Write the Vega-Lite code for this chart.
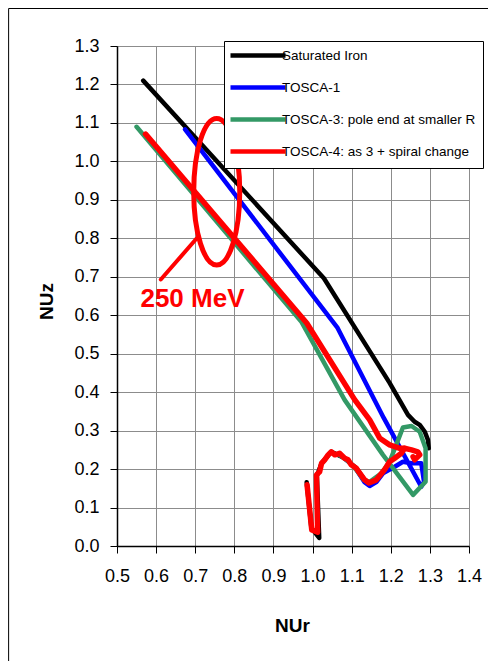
{
  "$schema": "https://vega.github.io/schema/vega-lite/v6.json",
  "width": 352,
  "height": 500,
  "autosize": "none",
  "padding": {"left": 117, "top": 46, "right": 19, "bottom": 115},
  "background": "white",
  "config": {
    "font": "Liberation Sans",
    "view": {"stroke": "#8c8c8c", "strokeWidth": 1},
    "legend": {
      "orient": "none",
      "legendX": 107,
      "legendY": -5,
      "fillColor": "white",
      "strokeColor": "black",
      "padding": 7,
      "symbolType": "M-1.6,0H9.4",
      "symbolSize": 100,
      "symbolStrokeWidth": 4.5,
      "labelOffset": 36,
      "labelFontSize": 13.5,
      "labelFont": "Liberation Sans",
      "labelColor": "black",
      "labelLimit": 400,
      "rowPadding": 13
    }
  },
  "datasets": {
    "curves": [
      {"s": "Saturated Iron", "seg": "a", "i": 0, "x": 0.567, "y": 1.210},
      {"s": "Saturated Iron", "seg": "a", "i": 1, "x": 1.029, "y": 0.696},
      {"s": "Saturated Iron", "seg": "a", "i": 2, "x": 1.197, "y": 0.424},
      {"s": "Saturated Iron", "seg": "a", "i": 3, "x": 1.244, "y": 0.341},
      {"s": "Saturated Iron", "seg": "a", "i": 4, "x": 1.261, "y": 0.323},
      {"s": "Saturated Iron", "seg": "a", "i": 5, "x": 1.274, "y": 0.315},
      {"s": "Saturated Iron", "seg": "a", "i": 6, "x": 1.287, "y": 0.297},
      {"s": "Saturated Iron", "seg": "a", "i": 7, "x": 1.295, "y": 0.276},
      {"s": "Saturated Iron", "seg": "a", "i": 8, "x": 1.297, "y": 0.254},
      {"s": "Saturated Iron", "seg": "b", "i": 0, "x": 0.985, "y": 0.166},
      {"s": "Saturated Iron", "seg": "b", "i": 1, "x": 0.997, "y": 0.047},
      {"s": "Saturated Iron", "seg": "b", "i": 2, "x": 1.017, "y": 0.021},
      {"s": "Saturated Iron", "seg": "b", "i": 3, "x": 1.011, "y": 0.182},
      {"s": "Saturated Iron", "seg": "b", "i": 4, "x": 1.023, "y": 0.215},
      {"s": "Saturated Iron", "seg": "b", "i": 5, "x": 1.048, "y": 0.245},
      {"s": "Saturated Iron", "seg": "b", "i": 6, "x": 1.082, "y": 0.228},
      {"s": "Saturated Iron", "seg": "b", "i": 7, "x": 1.112, "y": 0.202},
      {"s": "Saturated Iron", "seg": "b", "i": 8, "x": 1.133, "y": 0.172},
      {"s": "TOSCA-1", "seg": "a", "i": 0, "x": 0.674, "y": 1.083},
      {"s": "TOSCA-1", "seg": "a", "i": 1, "x": 1.064, "y": 0.567},
      {"s": "TOSCA-1", "seg": "a", "i": 2, "x": 1.182, "y": 0.333},
      {"s": "TOSCA-1", "seg": "a", "i": 3, "x": 1.278, "y": 0.154},
      {"s": "TOSCA-1", "seg": "a", "i": 4, "x": 1.285, "y": 0.167},
      {"s": "TOSCA-1", "seg": "a", "i": 5, "x": 1.278, "y": 0.215},
      {"s": "TOSCA-1", "seg": "a", "i": 6, "x": 1.253, "y": 0.215},
      {"s": "TOSCA-1", "seg": "a", "i": 7, "x": 1.231, "y": 0.219},
      {"s": "TOSCA-1", "seg": "a", "i": 8, "x": 1.210, "y": 0.206},
      {"s": "TOSCA-1", "seg": "a", "i": 9, "x": 1.180, "y": 0.189},
      {"s": "TOSCA-1", "seg": "a", "i": 10, "x": 1.163, "y": 0.166},
      {"s": "TOSCA-1", "seg": "a", "i": 11, "x": 1.146, "y": 0.156},
      {"s": "TOSCA-1", "seg": "a", "i": 12, "x": 1.133, "y": 0.166},
      {"s": "TOSCA-1", "seg": "a", "i": 13, "x": 1.112, "y": 0.199},
      {"s": "TOSCA-1", "seg": "a", "i": 14, "x": 1.090, "y": 0.221},
      {"s": "TOSCA-1", "seg": "a", "i": 15, "x": 1.069, "y": 0.239},
      {"s": "TOSCA-3: pole end at smaller R", "seg": "a", "i": 0, "x": 0.550, "y": 1.090},
      {"s": "TOSCA-3: pole end at smaller R", "seg": "a", "i": 1, "x": 0.972, "y": 0.582},
      {"s": "TOSCA-3: pole end at smaller R", "seg": "a", "i": 2, "x": 1.082, "y": 0.380},
      {"s": "TOSCA-3: pole end at smaller R", "seg": "a", "i": 3, "x": 1.180, "y": 0.237},
      {"s": "TOSCA-3: pole end at smaller R", "seg": "a", "i": 4, "x": 1.257, "y": 0.133},
      {"s": "TOSCA-3: pole end at smaller R", "seg": "a", "i": 5, "x": 1.289, "y": 0.167},
      {"s": "TOSCA-3: pole end at smaller R", "seg": "a", "i": 6, "x": 1.289, "y": 0.254},
      {"s": "TOSCA-3: pole end at smaller R", "seg": "a", "i": 7, "x": 1.274, "y": 0.297},
      {"s": "TOSCA-3: pole end at smaller R", "seg": "a", "i": 8, "x": 1.253, "y": 0.312},
      {"s": "TOSCA-3: pole end at smaller R", "seg": "a", "i": 9, "x": 1.231, "y": 0.308},
      {"s": "TOSCA-3: pole end at smaller R", "seg": "a", "i": 10, "x": 1.214, "y": 0.263},
      {"s": "TOSCA-3: pole end at smaller R", "seg": "a", "i": 11, "x": 1.197, "y": 0.219},
      {"s": "TOSCA-3: pole end at smaller R", "seg": "a", "i": 12, "x": 1.176, "y": 0.189},
      {"s": "TOSCA-3: pole end at smaller R", "seg": "a", "i": 13, "x": 1.146, "y": 0.167},
      {"s": "TOSCA-3: pole end at smaller R", "seg": "a", "i": 14, "x": 1.131, "y": 0.172},
      {"s": "TOSCA-3: pole end at smaller R", "seg": "a", "i": 15, "x": 1.112, "y": 0.198},
      {"s": "TOSCA-3: pole end at smaller R", "seg": "a", "i": 16, "x": 1.090, "y": 0.221},
      {"s": "TOSCA-3: pole end at smaller R", "seg": "a", "i": 17, "x": 1.069, "y": 0.237},
      {"s": "TOSCA-4: as 3 + spiral change", "seg": "a", "i": 0, "x": 0.573, "y": 1.071},
      {"s": "TOSCA-4: as 3 + spiral change", "seg": "a", "i": 1, "x": 0.985, "y": 0.580},
      {"s": "TOSCA-4: as 3 + spiral change", "seg": "a", "i": 2, "x": 1.108, "y": 0.380},
      {"s": "TOSCA-4: as 3 + spiral change", "seg": "a", "i": 3, "x": 1.146, "y": 0.328},
      {"s": "TOSCA-4: as 3 + spiral change", "seg": "a", "i": 4, "x": 1.172, "y": 0.280},
      {"s": "TOSCA-4: as 3 + spiral change", "seg": "a", "i": 5, "x": 1.197, "y": 0.263},
      {"s": "TOSCA-4: as 3 + spiral change", "seg": "a", "i": 6, "x": 1.223, "y": 0.254},
      {"s": "TOSCA-4: as 3 + spiral change", "seg": "a", "i": 7, "x": 1.235, "y": 0.254},
      {"s": "TOSCA-4: as 3 + spiral change", "seg": "a", "i": 8, "x": 1.253, "y": 0.250},
      {"s": "TOSCA-4: as 3 + spiral change", "seg": "a", "i": 9, "x": 1.269, "y": 0.245},
      {"s": "TOSCA-4: as 3 + spiral change", "seg": "a", "i": 10, "x": 1.274, "y": 0.237},
      {"s": "TOSCA-4: as 3 + spiral change", "seg": "a", "i": 11, "x": 1.261, "y": 0.224},
      {"s": "TOSCA-4: as 3 + spiral change", "seg": "a", "i": 12, "x": 1.257, "y": 0.232},
      {"s": "TOSCA-4: as 3 + spiral change", "seg": "b", "i": 0, "x": 0.986, "y": 0.159},
      {"s": "TOSCA-4: as 3 + spiral change", "seg": "b", "i": 1, "x": 0.998, "y": 0.042},
      {"s": "TOSCA-4: as 3 + spiral change", "seg": "b", "i": 2, "x": 1.013, "y": 0.036},
      {"s": "TOSCA-4: as 3 + spiral change", "seg": "b", "i": 3, "x": 1.010, "y": 0.185},
      {"s": "TOSCA-4: as 3 + spiral change", "seg": "b", "i": 4, "x": 1.018, "y": 0.193},
      {"s": "TOSCA-4: as 3 + spiral change", "seg": "b", "i": 5, "x": 1.023, "y": 0.215},
      {"s": "TOSCA-4: as 3 + spiral change", "seg": "b", "i": 6, "x": 1.031, "y": 0.224},
      {"s": "TOSCA-4: as 3 + spiral change", "seg": "b", "i": 7, "x": 1.040, "y": 0.237},
      {"s": "TOSCA-4: as 3 + spiral change", "seg": "b", "i": 8, "x": 1.048, "y": 0.245},
      {"s": "TOSCA-4: as 3 + spiral change", "seg": "b", "i": 9, "x": 1.057, "y": 0.237},
      {"s": "TOSCA-4: as 3 + spiral change", "seg": "b", "i": 10, "x": 1.069, "y": 0.241},
      {"s": "TOSCA-4: as 3 + spiral change", "seg": "b", "i": 11, "x": 1.082, "y": 0.228},
      {"s": "TOSCA-4: as 3 + spiral change", "seg": "b", "i": 12, "x": 1.091, "y": 0.224},
      {"s": "TOSCA-4: as 3 + spiral change", "seg": "b", "i": 13, "x": 1.099, "y": 0.211},
      {"s": "TOSCA-4: as 3 + spiral change", "seg": "b", "i": 14, "x": 1.112, "y": 0.202},
      {"s": "TOSCA-4: as 3 + spiral change", "seg": "b", "i": 15, "x": 1.121, "y": 0.189},
      {"s": "TOSCA-4: as 3 + spiral change", "seg": "b", "i": 16, "x": 1.133, "y": 0.172},
      {"s": "TOSCA-4: as 3 + spiral change", "seg": "b", "i": 17, "x": 1.144, "y": 0.164},
      {"s": "TOSCA-4: as 3 + spiral change", "seg": "b", "i": 18, "x": 1.163, "y": 0.172},
      {"s": "TOSCA-4: as 3 + spiral change", "seg": "b", "i": 19, "x": 1.184, "y": 0.198},
      {"s": "TOSCA-4: as 3 + spiral change", "seg": "b", "i": 20, "x": 1.197, "y": 0.219},
      {"s": "TOSCA-4: as 3 + spiral change", "seg": "b", "i": 21, "x": 1.210, "y": 0.228},
      {"s": "TOSCA-4: as 3 + spiral change", "seg": "b", "i": 22, "x": 1.227, "y": 0.241},
      {"s": "TOSCA-4: as 3 + spiral change", "seg": "b", "i": 23, "x": 1.235, "y": 0.254}
    ],
    "frame": [{"x": 0.2229, "y": 1.3975, "x2": 1.6, "y2": -0.6}],
    "ellipse": [{"x": 0.755, "y": 0.921}],
    "pointer": [{"i": 0, "x": 0.612, "y": 0.693}, {"i": 1, "x": 0.704, "y": 0.800}],
    "label": [{"t": "250 MeV", "x": 0.693, "y": 0.642}]
  },
  "encoding": {
    "x": {
      "field": "x", "type": "quantitative",
      "scale": {"domain": [0.5, 1.4], "nice": false, "zero": false},
      "axis": {
        "title": "NUr",
        "values": [0.5, 0.6, 0.7, 0.8, 0.9, 1.0, 1.1, 1.2, 1.3, 1.4],
        "format": ".1f",
        "grid": true, "gridColor": "#8c8c8c", "gridWidth": 1,
        "domainColor": "black", "domainWidth": 1.5,
        "tickColor": "black", "tickSize": 7, "tickWidth": 1,
        "labelFontSize": 18, "labelColor": "black", "labelPadding": 14,
        "labelFont": "Liberation Sans", "labelOverlap": false, "labelFlush": false,
        "titleFontSize": 19, "titleFontWeight": "bold", "titleColor": "black",
        "titleFont": "Liberation Sans", "titleX": 175, "titleY": 85,
        "titleBaseline": "alphabetic", "titleAlign": "center"
      }
    },
    "y": {
      "field": "y", "type": "quantitative",
      "scale": {"domain": [0, 1.3], "nice": false, "zero": false},
      "axis": {
        "title": "NUz",
        "values": [0, 0.1, 0.2, 0.3, 0.4, 0.5, 0.6, 0.7, 0.8, 0.9, 1.0, 1.1, 1.2, 1.3],
        "format": ".1f",
        "grid": true, "gridColor": "#8c8c8c", "gridWidth": 1,
        "domainColor": "black", "domainWidth": 1.5,
        "tickColor": "black", "tickSize": 7, "tickWidth": 1,
        "labelFontSize": 18, "labelColor": "black", "labelPadding": 11,
        "labelFont": "Liberation Sans", "labelOverlap": false, "labelFlush": false,
        "titleFontSize": 19, "titleFontWeight": "bold", "titleColor": "black",
        "titleFont": "Liberation Sans", "titleX": -65, "titleY": 255,
        "titleAngle": 270, "titleBaseline": "alphabetic", "titleAlign": "center"
      }
    }
  },
  "layer": [
    {
      "data": {"name": "frame"},
      "mark": {"type": "rect", "fill": "transparent", "stroke": "black", "strokeWidth": 1},
      "encoding": {"x2": {"field": "x2"}, "y2": {"field": "y2"}}
    },
    {
      "data": {"name": "curves"},
      "transform": [{"filter": "datum.s === 'Saturated Iron'"}],
      "mark": {"type": "line", "strokeWidth": 4.5, "strokeCap": "round", "strokeJoin": "round"},
      "encoding": {
        "color": {
          "field": "s", "type": "nominal",
          "scale": {
            "domain": ["Saturated Iron", "TOSCA-1", "TOSCA-3: pole end at smaller R", "TOSCA-4: as 3 + spiral change"],
            "range": ["#000000", "#0000FF", "#339966", "#FF0000"]
          },
          "legend": {"title": null}
        },
        "detail": {"field": "seg"},
        "order": {"field": "i"}
      }
    },
    {
      "data": {"name": "curves"},
      "transform": [{"filter": "datum.s === 'TOSCA-1'"}],
      "mark": {"type": "line", "strokeWidth": 4.5, "strokeCap": "round", "strokeJoin": "round"},
      "encoding": {
        "color": {"field": "s", "type": "nominal", "legend": {"title": null}},
        "detail": {"field": "seg"},
        "order": {"field": "i"}
      }
    },
    {
      "data": {"name": "curves"},
      "transform": [{"filter": "datum.s === 'TOSCA-3: pole end at smaller R'"}],
      "mark": {"type": "line", "strokeWidth": 4.5, "strokeCap": "round", "strokeJoin": "round"},
      "encoding": {
        "color": {"field": "s", "type": "nominal", "legend": {"title": null}},
        "detail": {"field": "seg"},
        "order": {"field": "i"}
      }
    },
    {
      "data": {"name": "curves"},
      "transform": [{"filter": "datum.s === 'TOSCA-4: as 3 + spiral change'"}],
      "mark": {"type": "line", "strokeWidth": 5.5, "strokeCap": "round", "strokeJoin": "round"},
      "encoding": {
        "color": {"field": "s", "type": "nominal", "legend": {"title": null}},
        "detail": {"field": "seg"},
        "order": {"field": "i"}
      }
    },
    {
      "data": {"name": "pointer"},
      "mark": {"type": "line", "color": "#FF0000", "strokeWidth": 4, "strokeCap": "round"},
      "encoding": {"order": {"field": "i"}}
    },
    {
      "data": {"name": "ellipse"},
      "mark": {
        "type": "point",
        "shape": "M0,-1C0.1734,-1,0.314,-0.5523,0.314,0C0.314,0.5523,0.1734,1,0,1C-0.1734,1,-0.314,0.5523,-0.314,0C-0.314,-0.5523,-0.1734,-1,0,-1Z",
        "size": 21492,
        "filled": false,
        "stroke": "#FF0000",
        "strokeWidth": 5,
        "opacity": 1
      }
    },
    {
      "data": {"name": "label"},
      "mark": {"type": "text", "color": "#FF0000", "fontSize": 26, "fontWeight": "bold", "font": "Liberation Sans", "align": "center", "baseline": "middle"},
      "encoding": {"text": {"field": "t"}}
    }
  ]
}
